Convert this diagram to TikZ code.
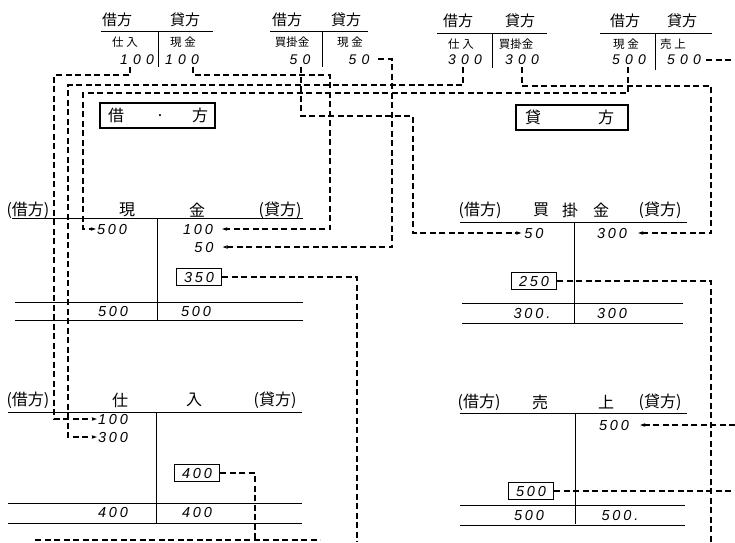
\documentclass[tikz,border=0pt]{standalone}
\usepackage{fontspec}
\newfontfamily\jpf{Noto Sans CJK JP}
\newfontfamily\numf[LetterSpace=20]{Liberation Sans}
\newfontfamily\numw[LetterSpace=38]{Liberation Sans}
\usetikzlibrary{arrows.meta}
\begin{document}
\begin{tikzpicture}[x=1pt,y=-1pt,
  tl/.style={line width=1pt},
  dl/.style={line width=1.2pt, dash pattern=on 6pt off 3.5pt},
  ar/.style={-{Stealth[length=5pt,width=3.5pt]}},
  hd/.style={font=\jpf\fontsize{15}{15}\selectfont, inner sep=0pt},
  sm/.style={font=\jpf\fontsize{11.5}{11.5}\selectfont, inner sep=0pt},
  th/.style={font=\jpf\fontsize{16}{16}\selectfont, inner sep=0pt},
  num/.style={font=\numf\itshape\fontsize{14.5}{14.5}\selectfont, inner sep=1pt},
  numtop/.style={font=\numw\itshape\fontsize{14}{14}\selectfont, inner sep=1pt},
  bx/.style={num, draw, line width=1pt, minimum width=45pt, minimum height=17pt, inner sep=0pt},
  kbox/.style={draw, line width=1.1pt, inner sep=0pt}]
\useasboundingbox (0,0) rectangle (735,542);

% ---------- journal entries (top) ----------
% 1
\node[hd] (h1a) at (117,20) {借方};
\node[hd] (h1b) at (185,20) {貸方};
\draw[tl] (101,31) -- (213,31);
\draw[tl] (158,31) -- (158,67);
\node[sm] (r1a) at (125,42) {仕 入};
\node[sm] (r1b) at (183,42) {現 金};
\node[numtop] (j1d) at (137,60) {100};
\node[numtop] (j1c) at (182,60) {100};
% 2
\node[hd] (h2a) at (287,20) {借方};
\node[hd] (h2b) at (346,20) {貸方};
\draw[tl] (270,31) -- (368,31);
\draw[tl] (322,31) -- (322,67);
\node[sm] (r2a) at (292,42) {買掛金};
\node[sm] (r2b) at (350,42) {現 金};
\node[numtop] (j2d) at (300,60) {50};
\node[numtop] (j2c) at (359,60) {50};
% 3
\node[hd] (h3a) at (458,21) {借方};
\node[hd] (h3b) at (520,21) {貸方};
\draw[tl] (437,33) -- (547,33);
\draw[tl] (492,33) -- (492,68);
\node[sm] (r3a) at (461,44) {仕 入};
\node[sm] (r3b) at (516,44) {買掛金};
\node[numtop] (j3d) at (465,60) {300};
\node[numtop] (j3c) at (522,60) {300};
% 4
\node[hd] (h4a) at (625,21) {借方};
\node[hd] (h4b) at (682,21) {貸方};
\draw[tl] (600,33) -- (712,33);
\draw[tl] (655,33) -- (655,70);
\node[sm] (r4a) at (626,44) {現 金};
\node[sm] (r4b) at (673,44) {売 上};
\node[numtop] (j4d) at (629,60) {500};
\node[numtop] (j4c) at (684,60) {500};

% ---------- labels boxes ----------
\node[kbox, minimum width=115pt, minimum height=25pt] (kari) at (157.5,115.5) {};
\node[th] at (116,115) {借};
\node[th] at (160,116) {.};
\node[th] at (200,115) {方};
\node[kbox, minimum width=112pt, minimum height=25pt] (kashi) at (572,117.5) {};
\node[th] at (533,117) {貸};
\node[th] at (606,117) {方};

% ---------- T account: 現金 ----------
\node[th] at (28,210) {(借方)};
\node[th] at (127,210) {現};
\node[th] at (197,210) {金};
\node[th] at (280,210) {(貸方)};
\draw[tl] (12,218) -- (303,218);
\draw[tl] (157,218) -- (157,320);
\draw[tl] (15,302) -- (303,302);
\draw[tl] (15,320) -- (303,320);
\node[num] (c500) at (112,229) {500};
\node[num] (c100) at (198,229) {100};
\node[num] (c50) at (204,247) {50};
\node[bx] (b350) at (199,277) {350};
\node[num] (ct1) at (113,311) {500};
\node[num] (ct2) at (196,311) {500};

% ---------- T account: 仕入 ----------
\node[th] at (28,400) {(借方)};
\node[th] at (120,400) {仕};
\node[th] at (194,400) {入};
\node[th] at (275,400) {(貸方)};
\draw[tl] (8,412) -- (302,412);
\draw[tl] (156,412) -- (156,523);
\draw[tl] (8,503) -- (302,503);
\draw[tl] (8,523) -- (302,523);
\node[num] (p100) at (113,419) {100};
\node[num] (p300) at (113,437) {300};
\node[bx] (b400) at (197,473) {400};
\node[num] (pt1) at (113,512) {400};
\node[num] (pt2) at (197,512) {400};

% ---------- T account: 買掛金 ----------
\node[th] at (480,210) {(借方)};
\node[th] at (541,210) {買};
\node[th] at (570,210) {掛};
\node[th] at (601,210) {金};
\node[th] at (660,210) {(貸方)};
\draw[tl] (460,222) -- (687,222);
\draw[tl] (574,222) -- (574,323);
\draw[tl] (462,303) -- (683,303);
\draw[tl] (462,323) -- (683,323);
\node[num] (a50) at (534,233) {50};
\node[num] (a300) at (612,233) {300};
\node[bx] (b250) at (534,281) {250};
\node[num] (at1) at (532,313) {300.};
\node[num] (at2) at (612,313) {300};

% ---------- T account: 売上 ----------
\node[th] at (479,402) {(借方)};
\node[th] at (540,402) {売};
\node[th] at (606,402) {上};
\node[th] at (660,402) {(貸方)};
\draw[tl] (460,413) -- (687,413);
\draw[tl] (575,413) -- (575,524);
\draw[tl] (460,505) -- (685,505);
\draw[tl] (460,525) -- (685,525);
\node[num] (s500) at (614,425) {500};
\node[bx] (b500) at (531,491) {500};
\node[num] (st1) at (529,515) {500};
\node[num] (st2) at (620,515) {500.};

% ---------- connectors ----------
\coordinate (sA) at (130,67);
\coordinate (sB) at (193,67);
\coordinate (sC) at (378,59);
\coordinate (sM) at (301,67);
\coordinate (sD) at (463,67);
\coordinate (sF) at (522,67);
\coordinate (sE) at (628,67);
\coordinate (sG) at (706,60);
\coordinate (eG) at (735,60);
\coordinate (eG2) at (735,425);
\coordinate (eK) at (735,491);
\coordinate (eH) at (357,542);
\coordinate (eI) at (711,542);
\coordinate (eJ) at (255,542);
\coordinate (bl1) at (35,540);
\coordinate (bl2) at (320,540);

\draw[dl,ar] (sA) |- (54,75) |- (p100.west);
\draw[dl,ar,shorten >=8pt] (sB) |- (330,75) |- (c100.east);
\draw[dl,ar,shorten >=8pt] (sC) -| (392,247) -- (c50.east);
\draw[dl,ar,shorten >=2pt] (sM) |- (413,116) |- (a50.west);
\draw[dl,ar] (sD) |- (68,85) |- (p300.west);
\draw[dl,ar,shorten >=10pt] (sF) |- (711,86) |- (a300.east);
\draw[dl,ar] (sE) |- (83,93) |- (c500.west);
\draw[dl] (sG) -- (eG);
\draw[dl,ar,shorten >=10pt] (eG2) -- (s500.east);
\draw[dl] (b350.east) -| (eH);
\draw[dl] (b250.east) -| (eI);
\draw[dl] (b400.east) -| (eJ);
\draw[dl] (b500.east) -- (eK);
\draw[dl] (bl1) -- (bl2);
\end{tikzpicture}
\end{document}
